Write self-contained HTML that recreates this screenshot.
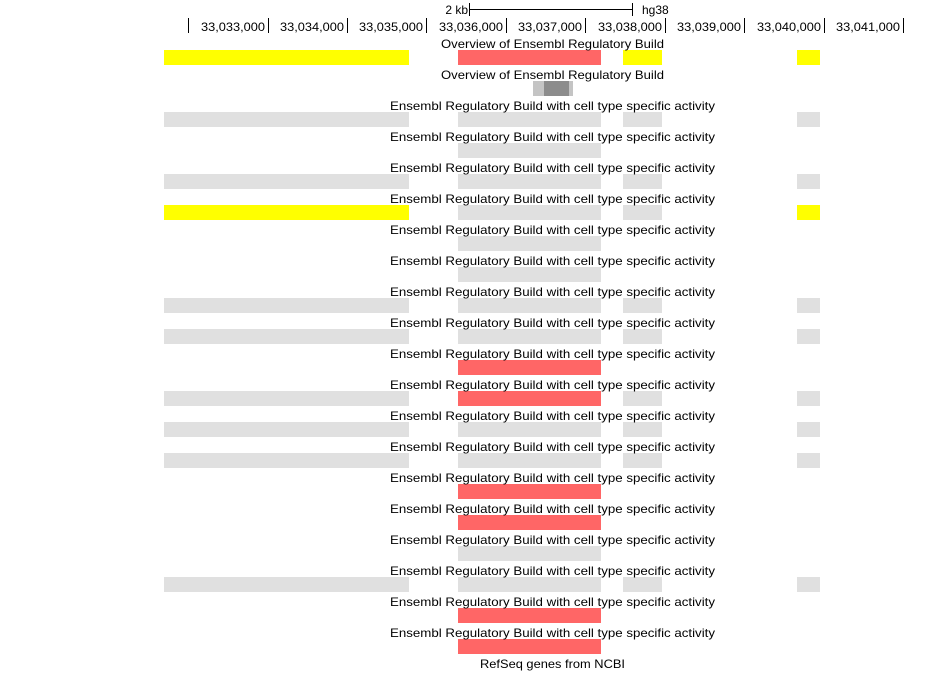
<!DOCTYPE html>
<html><head><meta charset="utf-8"><style>
html,body{margin:0;padding:0;background:#fff;}
svg{display:block;font-family:"Liberation Sans",Arial,sans-serif;font-size:12px;}
</style></head><body>
<svg width="950" height="686" xmlns="http://www.w3.org/2000/svg">
<defs>
<rect id="g1" x="164" y="0" width="245" height="15" fill="#e0e0e0"/>
<rect id="g2" x="458" y="0" width="143" height="15" fill="#e0e0e0"/>
<rect id="g3" x="623" y="0" width="39" height="15" fill="#e0e0e0"/>
<rect id="g4" x="797" y="0" width="23" height="15" fill="#e0e0e0"/>
<rect id="r2" x="458" y="0" width="143" height="15" fill="#ff6666"/>
<rect id="y1" x="164" y="0" width="245" height="15" fill="#ffff00"/>
<rect id="y4" x="797" y="0" width="23" height="15" fill="#ffff00"/>
</defs>
<g stroke="#000" stroke-width="1" shape-rendering="crispEdges">
<line x1="469.5" y1="3" x2="469.5" y2="16"/><line x1="632.5" y1="3" x2="632.5" y2="16"/><line x1="469" y1="9.5" x2="633" y2="9.5"/>
<line x1="188.5" y1="18" x2="188.5" y2="33"/><line x1="268.5" y1="18" x2="268.5" y2="33"/><line x1="347.5" y1="18" x2="347.5" y2="33"/><line x1="426.5" y1="18" x2="426.5" y2="33"/><line x1="506.5" y1="18" x2="506.5" y2="33"/><line x1="585.5" y1="18" x2="585.5" y2="33"/><line x1="665.5" y1="18" x2="665.5" y2="33"/><line x1="744.5" y1="18" x2="744.5" y2="33"/><line x1="824.5" y1="18" x2="824.5" y2="33"/><line x1="903.5" y1="18" x2="903.5" y2="33"/>
</g>
<g fill="#000">
<text x="468" y="14" text-anchor="end">2 kb</text>
<text x="642" y="14">hg38</text>
<g text-anchor="end">
<text x="265" y="31" textLength="64" lengthAdjust="spacingAndGlyphs">33,033,000</text>
<text x="344" y="31" textLength="64" lengthAdjust="spacingAndGlyphs">33,034,000</text>
<text x="423" y="31" textLength="64" lengthAdjust="spacingAndGlyphs">33,035,000</text>
<text x="503" y="31" textLength="64" lengthAdjust="spacingAndGlyphs">33,036,000</text>
<text x="582" y="31" textLength="64" lengthAdjust="spacingAndGlyphs">33,037,000</text>
<text x="662" y="31" textLength="64" lengthAdjust="spacingAndGlyphs">33,038,000</text>
<text x="741" y="31" textLength="64" lengthAdjust="spacingAndGlyphs">33,039,000</text>
<text x="821" y="31" textLength="64" lengthAdjust="spacingAndGlyphs">33,040,000</text>
<text x="900" y="31" textLength="64" lengthAdjust="spacingAndGlyphs">33,041,000</text>
</g>
</g>
<g shape-rendering="crispEdges">
<rect x="164" y="50" width="245" height="15" fill="#ffff00"/>
<rect x="458" y="50" width="143" height="15" fill="#ff6666"/>
<rect x="623" y="50" width="39" height="15" fill="#ffff00"/>
<rect x="797" y="50" width="23" height="15" fill="#ffff00"/>
<rect x="533" y="81" width="40" height="15" fill="#c4c4c4"/>
<rect x="544" y="81" width="25" height="15" fill="#8c8c8c"/>

<g transform="translate(0,112)"><use href="#g1"/><use href="#g2"/><use href="#g3"/><use href="#g4"/></g>
<g transform="translate(0,143)"><use href="#g2"/></g>
<g transform="translate(0,174)"><use href="#g1"/><use href="#g2"/><use href="#g3"/><use href="#g4"/></g>
<g transform="translate(0,205)"><use href="#y1"/><use href="#g2"/><use href="#g3"/><use href="#y4"/></g>
<g transform="translate(0,236)"><use href="#g2"/></g>
<g transform="translate(0,267)"><use href="#g2"/></g>
<g transform="translate(0,298)"><use href="#g1"/><use href="#g2"/><use href="#g3"/><use href="#g4"/></g>
<g transform="translate(0,329)"><use href="#g1"/><use href="#g2"/><use href="#g3"/><use href="#g4"/></g>
<g transform="translate(0,360)"><use href="#r2"/></g>
<g transform="translate(0,391)"><use href="#g1"/><use href="#r2"/><use href="#g3"/><use href="#g4"/></g>
<g transform="translate(0,422)"><use href="#g1"/><use href="#g2"/><use href="#g3"/><use href="#g4"/></g>
<g transform="translate(0,453)"><use href="#g1"/><use href="#g2"/><use href="#g3"/><use href="#g4"/></g>
<g transform="translate(0,484)"><use href="#r2"/></g>
<g transform="translate(0,515)"><use href="#r2"/></g>
<g transform="translate(0,546)"><use href="#g2"/></g>
<g transform="translate(0,577)"><use href="#g1"/><use href="#g2"/><use href="#g3"/><use href="#g4"/></g>
<g transform="translate(0,608)"><use href="#r2"/></g>
<g transform="translate(0,639)"><use href="#r2"/></g>
</g>
<g fill="#000" text-anchor="middle">
<text x="552.5" y="48" textLength="223" lengthAdjust="spacingAndGlyphs">Overview of Ensembl Regulatory Build</text>
<text x="552.5" y="79" textLength="223" lengthAdjust="spacingAndGlyphs">Overview of Ensembl Regulatory Build</text>
<text x="552.5" y="110" textLength="325" lengthAdjust="spacingAndGlyphs">Ensembl Regulatory Build with cell type specific activity</text>
<text x="552.5" y="141" textLength="325" lengthAdjust="spacingAndGlyphs">Ensembl Regulatory Build with cell type specific activity</text>
<text x="552.5" y="172" textLength="325" lengthAdjust="spacingAndGlyphs">Ensembl Regulatory Build with cell type specific activity</text>
<text x="552.5" y="203" textLength="325" lengthAdjust="spacingAndGlyphs">Ensembl Regulatory Build with cell type specific activity</text>
<text x="552.5" y="234" textLength="325" lengthAdjust="spacingAndGlyphs">Ensembl Regulatory Build with cell type specific activity</text>
<text x="552.5" y="265" textLength="325" lengthAdjust="spacingAndGlyphs">Ensembl Regulatory Build with cell type specific activity</text>
<text x="552.5" y="296" textLength="325" lengthAdjust="spacingAndGlyphs">Ensembl Regulatory Build with cell type specific activity</text>
<text x="552.5" y="327" textLength="325" lengthAdjust="spacingAndGlyphs">Ensembl Regulatory Build with cell type specific activity</text>
<text x="552.5" y="358" textLength="325" lengthAdjust="spacingAndGlyphs">Ensembl Regulatory Build with cell type specific activity</text>
<text x="552.5" y="389" textLength="325" lengthAdjust="spacingAndGlyphs">Ensembl Regulatory Build with cell type specific activity</text>
<text x="552.5" y="420" textLength="325" lengthAdjust="spacingAndGlyphs">Ensembl Regulatory Build with cell type specific activity</text>
<text x="552.5" y="451" textLength="325" lengthAdjust="spacingAndGlyphs">Ensembl Regulatory Build with cell type specific activity</text>
<text x="552.5" y="482" textLength="325" lengthAdjust="spacingAndGlyphs">Ensembl Regulatory Build with cell type specific activity</text>
<text x="552.5" y="513" textLength="325" lengthAdjust="spacingAndGlyphs">Ensembl Regulatory Build with cell type specific activity</text>
<text x="552.5" y="544" textLength="325" lengthAdjust="spacingAndGlyphs">Ensembl Regulatory Build with cell type specific activity</text>
<text x="552.5" y="575" textLength="325" lengthAdjust="spacingAndGlyphs">Ensembl Regulatory Build with cell type specific activity</text>
<text x="552.5" y="606" textLength="325" lengthAdjust="spacingAndGlyphs">Ensembl Regulatory Build with cell type specific activity</text>
<text x="552.5" y="637" textLength="325" lengthAdjust="spacingAndGlyphs">Ensembl Regulatory Build with cell type specific activity</text>
<text x="552.5" y="668" textLength="145" lengthAdjust="spacingAndGlyphs">RefSeq genes from NCBI</text>
</g>
</svg>
</body></html>
